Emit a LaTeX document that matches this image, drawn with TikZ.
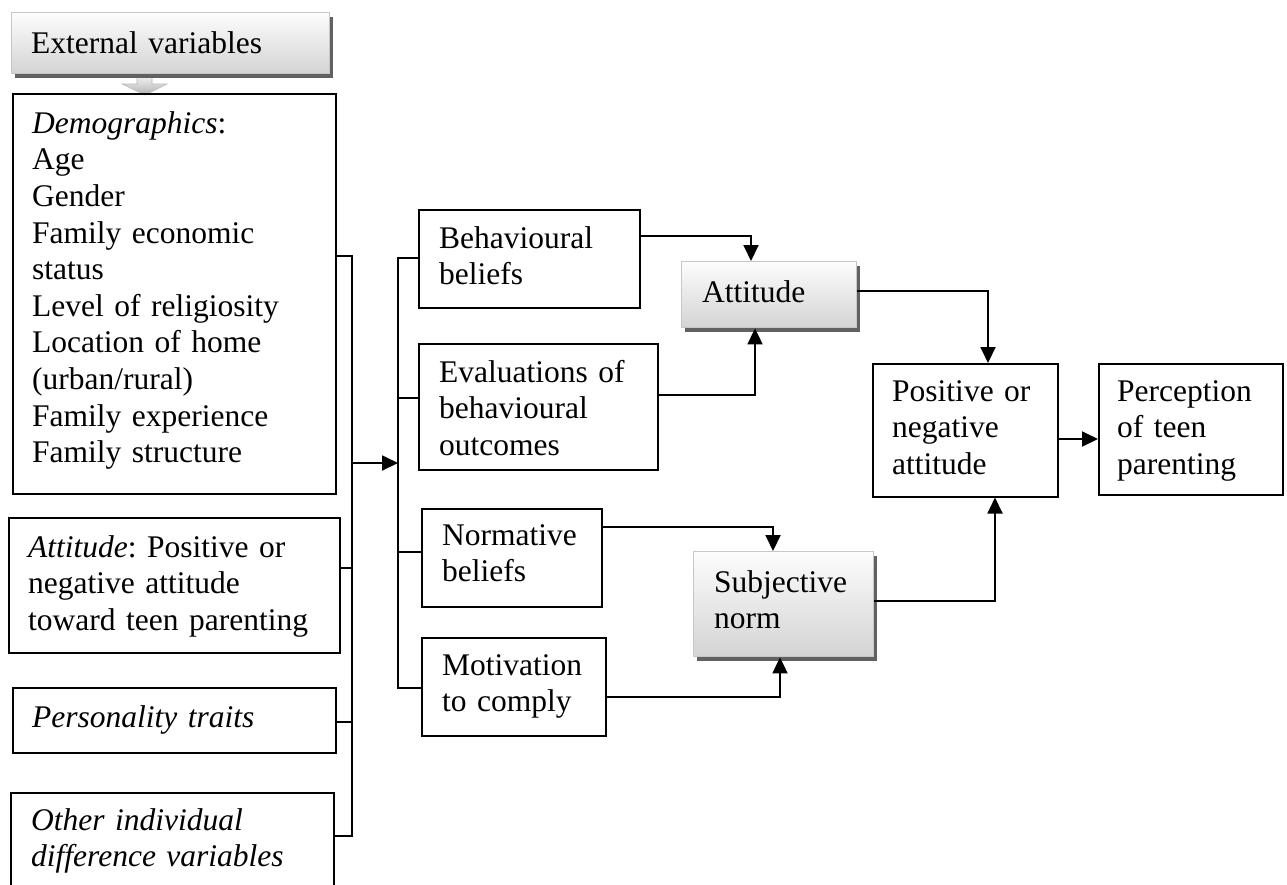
\documentclass[tikz,border=0pt]{standalone}
\usepackage{fontspec}
\setmainfont{Liberation Serif}
\usetikzlibrary{arrows.meta,shadows,calc}
\frenchspacing
\begin{document}
\begin{tikzpicture}[x=1pt,y=-1pt,
  box/.style={draw, line width=1.5pt, rectangle, inner sep=0pt, anchor=north west},
  gbox/.style={draw=black!22, line width=1.4pt, rectangle, inner sep=0pt, anchor=north west,
    top color=black!1, bottom color=black!17,
    drop shadow={shadow xshift=3.5pt, shadow yshift=-4.5pt, fill=black!62, opacity=1}},
  txt/.style={align=left, inner sep=0pt, anchor=north west, font=\fontsize{31.5}{36.6}\selectfont\frenchspacing},
  arr/.style={line width=1.9pt, -{Triangle[length=16pt,width=15pt]}},
  brk/.style={line width=1.5pt}]
\useasboundingbox (0,0) rectangle (1287,884);
\clip (0,0) rectangle (1287,884);

% block arrow under External variables
\path[draw=black!28, line width=0.6pt, top color=white, bottom color=black!30]
  (137,72) -- (152,72) -- (152,84) -- (167,84) -- (145,95) -- (122,84) -- (137,84) -- cycle;

% left column
\node[gbox, minimum width=318pt, minimum height=61pt] (ext) at (11,12) {};
\node[txt, text width=292pt] (ext-t) at ($(ext.north west)+(20,0)$) {\rule{0pt}{41pt}External variables};

\node[box, minimum width=323pt, minimum height=400pt] (demo) at (12,93) {};
\node[txt, text width=297pt] (demo-t) at ($(demo.north west)+(20,0)$) {\rule{0pt}{40pt}\textit{Demographics}:\\Age\\Gender\\Family economic\\status\\Level of religiosity\\Location of home\\(urban/rural)\\Family experience\\Family structure};

\node[box, minimum width=331pt, minimum height=135pt] (att0) at (8,517) {};
\node[txt, text width=305pt] (att0-t) at ($(att0.north west)+(20,0)$) {\rule{0pt}{40pt}\textit{Attitude}: Positive or\\negative attitude\\toward teen parenting};

\node[box, minimum width=323pt, minimum height=65pt] (pers) at (12,687) {};
\node[txt, text width=297pt] (pers-t) at ($(pers.north west)+(20,0)$) {\rule{0pt}{40pt}\textit{Personality traits}};

\node[box, minimum width=323pt, minimum height=120pt] (oth) at (10,792) {};
\node[txt, text width=297pt] (oth-t) at ($(oth.north west)+(21,0)$) {\rule{0pt}{38pt}\textit{Other individual}\\\textit{difference variables}};

% beliefs column
\node[box, minimum width=221pt, minimum height=98pt] (beh) at (418,209) {};
\node[txt, text width=195pt] (beh-t) at ($(beh.north west)+(21,0)$) {\rule{0pt}{39pt}Behavioural\\beliefs};

\node[box, minimum width=239pt, minimum height=126pt] (eva) at (418,343) {};
\node[txt, text width=213pt] (eva-t) at ($(eva.north west)+(21,0)$) {\rule{0pt}{39pt}Evaluations of\\behavioural\\outcomes};

\node[box, minimum width=180pt, minimum height=98pt] (nor) at (421,508) {};
\node[txt, text width=154pt] (nor-t) at ($(nor.north west)+(21,0)$) {\rule{0pt}{37pt}Normative\\beliefs};

\node[box, minimum width=184pt, minimum height=98pt] (mot) at (421,637) {};
\node[txt, text width=158pt] (mot-t) at ($(mot.north west)+(21,0)$) {\rule{0pt}{38pt}Motivation\\to comply};

% attitude / subjective norm
\node[gbox, minimum width=175pt, minimum height=66pt] (att) at (681,261) {};
\node[txt, text width=149pt] (att-t) at ($(att.north west)+(21,0)$) {\rule{0pt}{41pt}Attitude};

\node[gbox, minimum width=180pt, minimum height=105pt] (sub) at (693,551) {};
\node[txt, text width=154pt] (sub-t) at ($(sub.north west)+(21,0)$) {\rule{0pt}{41pt}Subjective\\norm};

% right column
\node[box, minimum width=185pt, minimum height=133pt] (pos) at (872,363) {};
\node[txt, text width=159pt] (pos-t) at ($(pos.north west)+(20,0)$) {\rule{0pt}{38pt}Positive or\\negative\\attitude};

\node[box, minimum width=184pt, minimum height=131pt] (per) at (1098,363) {};
\node[txt, text width=158pt] (per-t) at ($(per.north west)+(19,0)$) {\rule{0pt}{38pt}Perception\\of teen\\parenting};

% bracket coordinates
\coordinate (l1) at (352,256);
\coordinate (l2) at (352,568);
\coordinate (l3) at (352,722);
\coordinate (l4) at (352,836);
\coordinate (l5) at (352,463);
\coordinate (r1) at (398,258);
\coordinate (r2) at (398,398);
\coordinate (r3) at (398,552);
\coordinate (r4) at (398,688);
\coordinate (r5) at (398,463);

\draw[brk] (demo.east |- l1) -- (l1) -- (l4) -- (oth.east |- l4);
\draw[brk] (att0.east |- l2) -- (l2);
\draw[brk] (pers.east |- l3) -- (l3);
\draw[arr] (l5) -- (r5);
\draw[brk] (beh.west |- r1) -- (r1) -- (r4) -- (mot.west |- r4);
\draw[brk] (r2) -- (eva.west |- r2);
\draw[brk] (r3) -- (nor.west |- r3);

% elbow coordinates
\coordinate (e1) at (751,236);
\coordinate (e2) at (755,395);
\coordinate (e3) at (773,527);
\coordinate (e4) at (780,697);
\coordinate (e5) at (988,291);
\coordinate (e6) at (995,601);
\coordinate (e7) at (1000,439);

\draw[arr] (beh.east |- e1) -| (att.north -| e1);
\draw[arr] (eva.east |- e2) -| (att.south -| e2);
\draw[arr] (nor.east |- e3) -| (sub.north -| e3);
\draw[arr] (mot.east |- e4) -| (sub.south -| e4);
\draw[arr] (att.east |- e5) -| (pos.north -| e5);
\draw[arr] (sub.east |- e6) -| (pos.south -| e6);
\draw[arr] (pos.east |- e7) -- (per.west |- e7);
\end{tikzpicture}
\end{document}
